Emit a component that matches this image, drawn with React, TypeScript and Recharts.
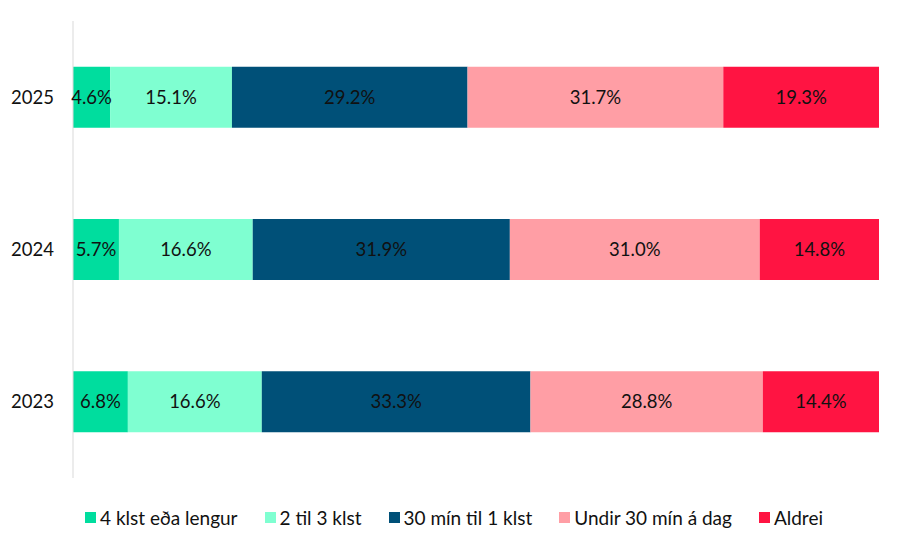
import React from 'react';
import { BarChart, Bar, XAxis, YAxis, LabelList } from 'recharts';

document.body.style.margin = '0';

const years = ['2025', '2024', '2023'];
const fourPlus = [4.6, 5.7, 6.8];
const twoToThree = [15.1, 16.6, 16.6];
const thirtyToOne = [29.2, 31.9, 33.3];
const underThirty = [31.7, 31.0, 28.8];
const never = [19.3, 14.8, 14.4];

const series = [
  { key: 'a', name: '4 klst eða lengur', color: '#00DD9E', values: fourPlus },
  { key: 'b', name: '2 til 3 klst', color: '#7FFFD1', values: twoToThree },
  { key: 'c', name: '30 mín til 1 klst', color: '#005078', values: thirtyToOne },
  { key: 'd', name: 'Undir 30 mín á dag', color: '#FF9EA5', values: underThirty },
  { key: 'e', name: 'Aldrei', color: '#FF1442', values: never },
];

const data = years.map((year, i) => {
  const row: Record<string, string | number> = { year };
  series.forEach(s => {
    row[s.key] = s.values[i];
  });
  return row;
});

const font = 'Lato, "Open Sans", sans-serif';

const LegendRow = () => (
  <div
    style={{
      display: 'flex',
      justifyContent: 'center',
      gap: 27,
      fontFamily: font,
      fontSize: 19,
      color: '#111',
      paddingLeft: 8,
    }}
  >
    {series.map(s => (
      <span key={s.key} style={{ display: 'flex', alignItems: 'center' }}>
        <span style={{ width: 11, height: 11, background: s.color, marginRight: 4 }} />
        {s.name}
      </span>
    ))}
  </div>
);

export default function App() {
  return (
    <div style={{ width: 900, height: 548, position: 'relative', background: '#fff' }}>
      <BarChart
        width={900}
        height={548}
        data={data}
        layout="vertical"
        stackOffset="expand"
        barCategoryGap="30%"
        margin={{ top: 21, right: 21, bottom: 70, left: 0 }}
      >
        <XAxis type="number" hide domain={[0, 1]} />
        <YAxis
          type="category"
          dataKey="year"
          width={73}
          tickLine={false}
          axisLine={{ stroke: '#d9d9d9' }}
          tickMargin={13}
          tick={{ fill: '#111', fontSize: 18.5, fontFamily: font }}
        />
        {series.map(s => (
          <Bar key={s.key} dataKey={s.key} stackId="x" fill={s.color} isAnimationActive={false}>
            <LabelList
              dataKey={s.key}
              position="center"
              formatter={(v: any) => `${Number(v).toFixed(1)}%`}
              style={{ fill: '#111', fontSize: 18.5, fontFamily: font }}
            />
          </Bar>
        ))}
      </BarChart>
      <div style={{ position: 'absolute', left: 0, top: 506, width: 900 }}>
        <LegendRow />
      </div>
    </div>
  );
}
